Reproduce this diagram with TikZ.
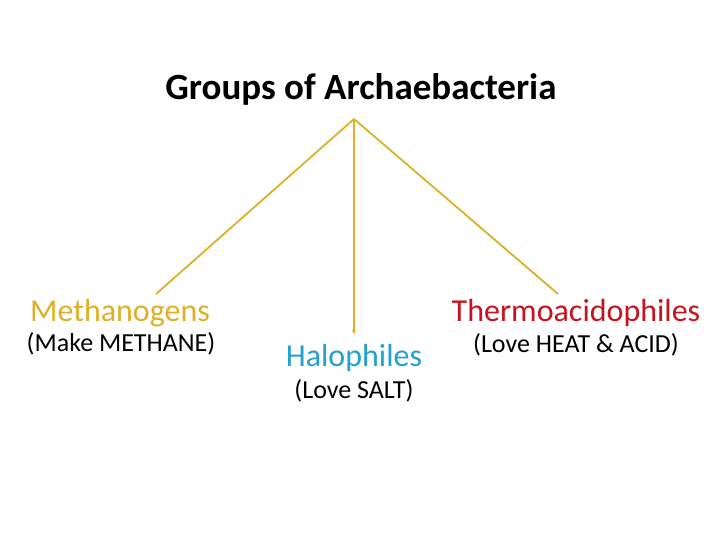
\documentclass[tikz,border=0pt]{standalone}
\usepackage{fontspec}
\setmainfont{Carlito}
\usepackage{tikz}
\usetikzlibrary{arrows.meta}

\definecolor{gold}{RGB}{222,176,38}
\definecolor{saltblue}{RGB}{35,160,210}
\definecolor{heatred}{RGB}{200,18,30}

\tikzset{
    group/.style={anchor=base, inner sep=0pt, font=\fontsize{32}{36}\selectfont},
    note/.style={anchor=base, inner sep=0pt, font=\fontsize{26}{30}\selectfont},
    branch/.style={draw=gold, line width=1.8pt}
}

\begin{document}
\begin{tikzpicture}[x=1pt, y=-1pt]
        \useasboundingbox (0,0) rectangle (720,540);

        \node[anchor=base, inner sep=0pt, font=\fontsize{37}{40}\selectfont\bfseries] (title) at (361,100) {Groups of Archaebacteria};

        \node[group, text=gold] (metha) at (120,321) {Methanogens};
        \node[note] (methanote) at (121,351) {(Make METHANE)};
        \node[group, text=saltblue] (halo) at (354,366) {Halophiles};
        \node[note] (halonote) at (354,398) {(Love SALT)};
        \node[group, text=heatred] (thermo) at (576,321) {Thermoacidophiles};
        \node[note] (thermonote) at (576,352) {(Love HEAT \& ACID)};

        \coordinate (apex) at (354,119);
        \coordinate (methaend) at (156,294);
        \coordinate (haloend) at (354,334);
        \coordinate (thermoend) at (558,294);

        \draw[branch] (apex) -- (methaend);
        \draw[branch, -{Stealth[length=4pt, width=4pt]}] (apex) -- (haloend);
        \draw[branch] (apex) -- (thermoend);
    \end{tikzpicture}
\end{document}
